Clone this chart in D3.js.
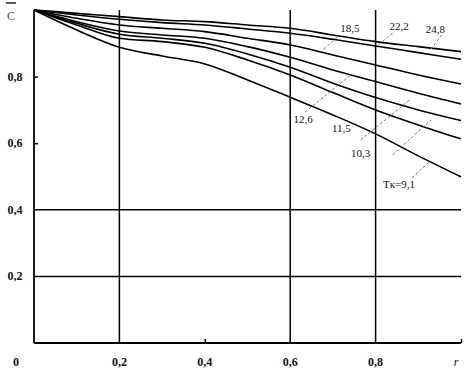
<!DOCTYPE html>
<html>
<head>
<meta charset="utf-8">
<script src="https://d3js.org/d3.v7.min.js"></script>
<style>
  body { margin: 0; background: #fff; }
  svg text { font-family: "Liberation Serif", "DejaVu Serif", serif; font-weight: bold; font-size: 12px; fill: #111; }
</style>
</head>
<body>
<svg id="frame"></svg>
<script>
  // r values sampled along each curve
  var rValues = [0, 0.1, 0.2, 0.3, 0.4, 0.5, 0.6, 0.7, 0.8, 0.9, 1.0];

  // C values for each Tk (top to bottom)
  var c248 = [1, 0.99, 0.98, 0.97, 0.965, 0.955, 0.945, 0.925, 0.905, 0.89, 0.875];
  var c222 = [1, 0.985, 0.972, 0.962, 0.955, 0.943, 0.93, 0.912, 0.892, 0.872, 0.852];
  var c185 = [1, 0.975, 0.955, 0.945, 0.935, 0.915, 0.895, 0.865, 0.835, 0.805, 0.778];
  var c126 = [1, 0.965, 0.937, 0.925, 0.915, 0.89, 0.858, 0.82, 0.785, 0.75, 0.718];
  var c115 = [1, 0.96, 0.927, 0.915, 0.9, 0.868, 0.828, 0.78, 0.737, 0.70, 0.668];
  var c103 = [1, 0.955, 0.915, 0.905, 0.888, 0.85, 0.805, 0.752, 0.70, 0.655, 0.613];
  var c91  = [1, 0.94, 0.888, 0.862, 0.838, 0.79, 0.738, 0.685, 0.628, 0.562, 0.499];
  var allCurves = [c248, c222, c185, c126, c115, c103, c91];

  // curve labels: text, label position in data units, leader from/to in data units
  var curveLabels = ["18,5", "22,2", "24,8", "12,6", "11,5", "10,3", "Tк=9,1"];
  var labelAt = [[0.74, 0.935], [0.855, 0.94], [0.94, 0.93], [0.63, 0.66], [0.72, 0.635], [0.765, 0.56], [0.855, 0.465]];
  var leaderFrom = [[0.71, 0.918], [0.84, 0.93], [0.955, 0.925], [0.635, 0.694], [0.765, 0.61], [0.84, 0.565], [0.885, 0.496]];
  var leaderTo = [[0.677, 0.88], [0.806, 0.895], [0.928, 0.88], [0.745, 0.808], [0.88, 0.73], [0.93, 0.67], [0.925, 0.543]];

  var xTicks = [0.2, 0.4, 0.6, 0.8];
  var xTickLabels = ["0,2", "0,4", "0,6", "0,8"];
  var yTicks = [0.2, 0.4, 0.6, 0.8];
  var yTickLabels = ["0,2", "0,4", "0,6", "0,8"];
  var xGrid = [0.2, 0.6, 0.8];
  var yGrid = [0.2, 0.4];

  var width = 464, height = 379;
  var svg = d3.select('#frame').attr('width', width).attr('height', height);

  var x = d3.scaleLinear().domain([0, 1]).range([34, 461]);
  var y = d3.scaleLinear().domain([0, 1]).range([343, 10]);

  // grid lines
  svg.selectAll('line.vgrid')
    .data(xGrid)
    .enter().append('line')
    .attr('x1', function(d){ return x(d); })
    .attr('x2', function(d){ return x(d); })
    .attr('y1', y(0))
    .attr('y2', y(1))
    .attr('stroke', '#000')
    .attr('stroke-width', 1.5);

  svg.selectAll('line.hgrid')
    .data(yGrid)
    .enter().append('line')
    .attr('x1', x(0))
    .attr('x2', x(1))
    .attr('y1', function(d){ return y(d); })
    .attr('y2', function(d){ return y(d); })
    .attr('stroke', '#000')
    .attr('stroke-width', 1.5);

  // axes (drawn by hand-ish with d3 axis, then cleaned)
  var xAxis = svg.append('g')
    .attr('transform', 'translate(0,' + y(0) + ')')
    .call(d3.axisTop(x).tickValues([0.4, 1.0]).tickSize(4).tickFormat(''));
  var yAxis = svg.append('g')
    .attr('transform', 'translate(' + x(0) + ',0)')
    .call(d3.axisRight(y).tickValues([0.6, 0.8]).tickSize(4).tickFormat(''));
  [xAxis, yAxis].forEach(function(ax){
    ax.select('.domain').attr('stroke', '#000').attr('stroke-width', 1.8);
    ax.selectAll('.tick line').attr('stroke', '#000').attr('stroke-width', 1.5);
  });
  yAxis.select('.domain').attr('d', 'M0,' + y(1) + 'V' + y(0));
  xAxis.select('.domain').attr('d', 'M' + x(0) + ',0H' + x(1));

  // tick labels
  svg.selectAll('text.xlab')
    .data(xTicks)
    .enter().append('text')
    .attr('x', function(d){ return x(d); })
    .attr('y', 366)
    .attr('text-anchor', 'middle')
    .text(function(d, i){ return xTickLabels[i]; });

  svg.selectAll('text.ylab')
    .data(yTicks)
    .enter().append('text')
    .attr('x', 15)
    .attr('y', function(d){ return y(d) + 4; })
    .attr('text-anchor', 'middle')
    .text(function(d, i){ return yTickLabels[i]; });

  svg.append('text').attr('x', 16).attr('y', 366).attr('text-anchor', 'middle').text('0');
  svg.append('text').attr('x', 456).attr('y', 366).attr('text-anchor', 'middle')
    .style('font-style', 'italic').style('font-weight', 'normal').text('r');

  // C with overline
  svg.append('text').attr('x', 11).attr('y', 20).attr('text-anchor', 'middle')
    .style('font-weight', 'normal').style('fill', '#555').text('C');
  svg.append('line').attr('x1', 6).attr('x2', 16).attr('y1', 3).attr('y2', 3)
    .attr('stroke', '#222').attr('stroke-width', 1.5);

  // curves
  var line = d3.line()
    .x(function(d, i){ return x(rValues[i]); })
    .y(function(d){ return y(d); })
    .curve(d3.curveMonotoneX);

  svg.selectAll('path.curve')
    .data(allCurves)
    .enter().append('path')
    .attr('d', line)
    .attr('fill', 'none')
    .attr('stroke', '#000')
    .attr('stroke-width', 1.6);

  // leader lines
  svg.selectAll('line.leader')
    .data(curveLabels)
    .enter().append('line')
    .attr('x1', function(d, i){ return x(leaderFrom[i][0]); })
    .attr('y1', function(d, i){ return y(leaderFrom[i][1]); })
    .attr('x2', function(d, i){ return x(leaderTo[i][0]); })
    .attr('y2', function(d, i){ return y(leaderTo[i][1]); })
    .attr('stroke', '#777')
    .attr('stroke-width', 1)
    .attr('stroke-dasharray', '3,2');

  svg.selectAll('text.clab')
    .data(curveLabels)
    .enter().append('text')
    .attr('x', function(d, i){ return x(labelAt[i][0]); })
    .attr('y', function(d, i){ return y(labelAt[i][1]); })
    .attr('text-anchor', 'middle')
    .style('font-weight', 'normal')
    .style('font-size', '11px')
    .text(function(d){ return d; });
</script>
</body>
</html>
